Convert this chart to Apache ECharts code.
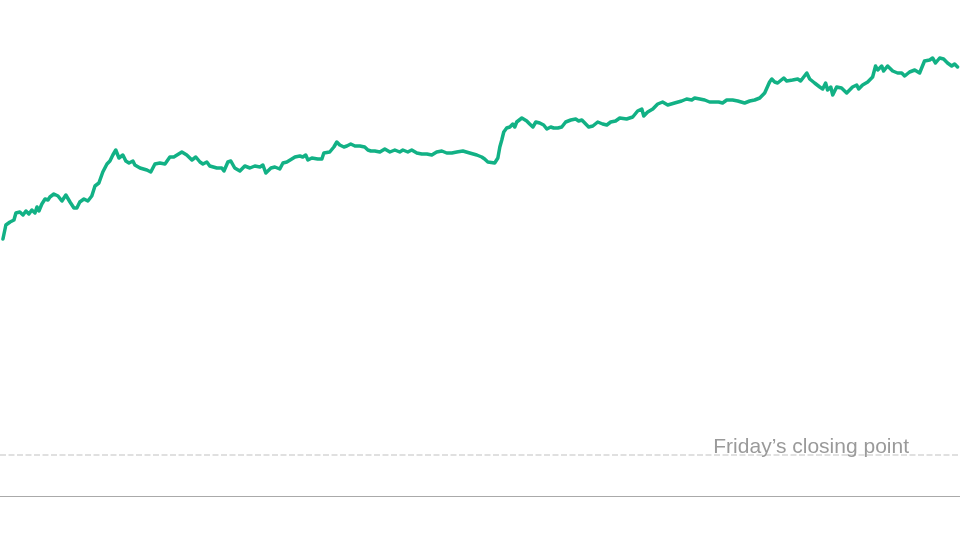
<!DOCTYPE html>
<html>
<head>
<meta charset="utf-8">
<style>html,body{margin:0;padding:0;background:#fff}#c{width:960px;height:540px}</style>
<script src="https://cdn.jsdelivr.net/npm/echarts@6/dist/echarts.min.js"></script>
</head>
<body>
<div id="c"></div>
<script>
// Minutes after the opening bell (9:30 = 0, 16:00 = 390)
const minutes = [0,1.2,2.9,4.5,5.3,6.9,8.2,9.4,10.6,11.8,13.1,13.9,14.7,15.9,17.2,18.4,19.2,20.8,22.5,24.1,25.7,27.4,29.0,30.2,31.4,33.1,34.7,36.3,37.6,39.2,40.8,42.5,43.7,44.9,46.1,47.4,49.0,50.2,51.5,53.1,53.9,56.0,58.8,60.4,62.1,64.1,66.2,68.2,69.8,73.1,75.1,77.2,78.8,80.5,81.7,83.3,84.5,87.4,89.4,90.3,91.9,93.1,94.7,96.8,98.8,100.9,102.9,105.0,106.2,107.4,109.5,111.1,113.1,114.4,116.0,118.0,119.3,121.3,122.5,123.7,124.6,126.2,128.6,130.3,131.1,133.5,135.2,136.4,137.6,139.3,140.5,142.1,143.8,145.8,147.8,149.1,150.3,151.9,154.0,156.0,158.1,160.1,162.1,163.4,165.4,167.0,169.1,171.1,173.2,175.2,177.2,179.3,181.3,183.4,185.4,187.9,190.7,193.6,195.6,196.8,198.1,200.9,202.2,203.0,203.8,204.6,205.8,207.1,208.3,209.1,209.9,212.0,212.8,214.0,215.2,216.5,217.7,219.3,220.9,222.2,223.8,225.0,226.7,228.3,229.9,232.0,234.0,235.2,236.5,237.7,239.3,241.0,243.0,245.0,246.7,248.3,250.3,252.0,254.8,257.3,259.3,261.0,261.8,263.4,265.5,267.5,269.5,271.6,274.4,277.3,279.3,281.4,282.6,284.7,286.7,288.7,290.8,292.4,294.0,295.7,298.1,300.2,303.0,305.1,307.1,309.2,311.2,313.2,314.1,315.3,316.5,319.0,320.2,322.6,324.7,325.9,328.4,329.6,331.6,333.7,334.9,336.1,336.9,338.2,339.0,340.6,342.6,344.7,347.1,348.8,349.6,351.2,353.3,355.3,356.5,357.4,359.0,359.8,361.4,363.5,365.5,367.2,368.4,370.4,372.5,374.5,376.5,378.6,379.8,381.0,382.7,384.3,385.9,387.6,388.8,390.0];

// Points above Friday's closing level
const points = [216,230,233,235,242,243,240,244,241,245,242,248,244,251,256,255,258,261,259,254,260,253,247,247,253,256,254,259,269,272,283,291,294,300,305,297,300,294,292,294,290,287,285,283,291,292,291,298,298,303,300,295,298,293,291,293,289,287,287,284,293,294,287,284,289,287,289,288,290,282,287,288,286,292,293,296,298,299,298,300,295,297,296,296,302,303,308,313,310,308,309,311,309,309,308,305,304,304,303,306,303,305,303,305,303,305,302,301,301,300,303,304,302,302,303,304,302,300,298,296,293,292,297,308,315,323,327,328,331,328,333,337,338,334,331,328,333,332,330,326,328,327,327,328,333,335,336,334,335,332,328,329,333,331,330,333,334,337,336,338,344,346,339,343,346,351,353,350,352,354,356,355,357,356,355,353,353,353,352,355,355,354,352,354,355,357,362,373,376,373,372,377,374,375,376,374,382,376,372,368,366,372,365,368,360,368,367,362,368,370,366,370,373,378,389,385,389,384,389,384,382,382,379,383,385,382,394,395,397,392,397,396,392,389,391,388];

const closeLabel = 'Friday\u2019s closing point';
const fridayClose = 0;

const seriesData = minutes.map((m, i) => [m, points[i]]);

const chart = echarts.init(document.getElementById('c'), null, {renderer: 'canvas'});
chart.setOption({
  animation: false,
  backgroundColor: '#ffffff',
  grid: {left: 0, right: 0, top: 0, bottom: 44, containLabel: false},
  xAxis: {
    type: 'value', min: -1.2, max: 391,
    axisLine: {show: true, onZero: false, lineStyle: {color: '#aaaaaa', width: 1}},
    axisTick: {show: false}, axisLabel: {show: false}, splitLine: {show: false}
  },
  yAxis: {
    type: 'value', min: -41, max: 455,
    axisLine: {show: false}, axisTick: {show: false}, axisLabel: {show: false}, splitLine: {show: false}
  },
  series: [{
    type: 'line',
    data: seriesData,
    showSymbol: false,
    smooth: false,
    lineStyle: {color: '#12b185', width: 3.5, join: 'round', cap: 'round'},
    itemStyle: {color: '#12b185'},
    markLine: {
      silent: true,
      symbol: 'none',
      data: [{yAxis: fridayClose}],
      lineStyle: {color: '#d6d6d6', type: [6, 2.5], width: 1.5},
      label: {
        show: true,
        position: 'insideEndTop',
        formatter: closeLabel,
        distance: [51, -3],
        color: '#9a9a9a',
        fontSize: 21,
        fontFamily: 'Liberation Sans, Arial, sans-serif'
      }
    }
  }]
});
</script>
</body>
</html>
